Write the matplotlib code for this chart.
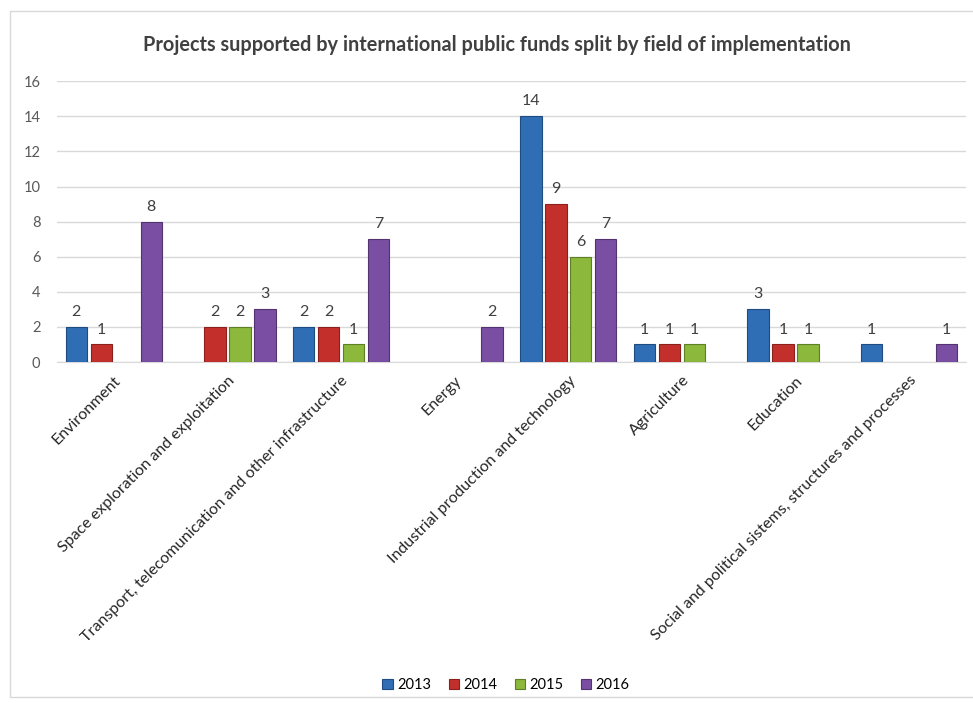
import numpy as np
import matplotlib.pyplot as plt
from matplotlib.patches import Rectangle

plt.rcParams['font.family'] = ['Lato', 'DejaVu Sans']

fields = ['Environment', 'Space exploration and exploitation',
          'Transport, telecomunication and other infrastructure', 'Energy',
          'Industrial production and technology', 'Agriculture', 'Education',
          'Social and political sistems, structures and processes']
years = ['2013', '2014', '2015', '2016']
v2013 = [2, 0, 2, 0, 14, 1, 3, 1]
v2014 = [1, 2, 2, 0, 9, 1, 1, 0]
v2015 = [0, 2, 1, 0, 6, 1, 1, 0]
v2016 = [8, 3, 7, 2, 7, 0, 0, 1]
series = [v2013, v2014, v2015, v2016]
colors = ['#2F6DB5', '#C3302C', '#8CB83C', '#7A4FA3']
edges = ['#1F4C80', '#8A1F1C', '#5F7F25', '#523370']

fig = plt.figure(figsize=(9.73, 7.03), dpi=100)
fig.add_artist(Rectangle((0.010, 0.008), 0.995, 0.977, transform=fig.transFigure,
                         fill=False, edgecolor='#d9d9d9', linewidth=1))
ax = fig.add_axes([0.0586, 0.485, 0.934, 0.3995])

x = np.arange(len(fields))
step = 0.22
width = 0.19
for i, (vals, c, ec, yr) in enumerate(zip(series, colors, edges, years)):
    pos = x + (i - 1.5) * step
    h = [v if v > 0 else np.nan for v in vals]
    bars = ax.bar(pos, h, width, color=c, edgecolor=ec, linewidth=0.8, label=yr, zorder=3)
    for b, v in zip(bars, vals):
        if v > 0:
            ax.text(b.get_x() + b.get_width() / 2, v + 0.45, str(v), ha='center', va='bottom',
                    fontsize=11.5, color='#404040')

ax.set_xlim(-0.5, len(fields) - 0.5)
ax.set_ylim(0, 16)
ax.set_yticks(range(0, 17, 2))
ax.yaxis.grid(True, color='#d9d9d9', linewidth=1)
ax.set_axisbelow(True)
for s in ['top', 'right', 'left']:
    ax.spines[s].set_visible(False)
ax.spines['bottom'].set_color('#d9d9d9')
ax.tick_params(axis='y', length=0, labelsize=10.5, labelcolor='#595959', pad=12)
ax.tick_params(axis='x', length=0, pad=8)
ax.set_xticks(x)
ax.set_xticklabels(fields, rotation=45, ha='right', rotation_mode='anchor',
                   fontsize=11.5, color='#262626')

fig.text(0.511, 0.936, 'Projects supported by international public funds split by field of implementation',
         ha='center', va='center', fontsize=14.3, fontweight='bold', color='#404040')

fig.legend(loc='center', bbox_to_anchor=(0.52, 0.026), ncol=4, frameon=False,
           handlelength=0.7, handleheight=0.7, handletextpad=0.3, columnspacing=1.2,
           fontsize=10.5)

fig.savefig('out.png', dpi=100)
